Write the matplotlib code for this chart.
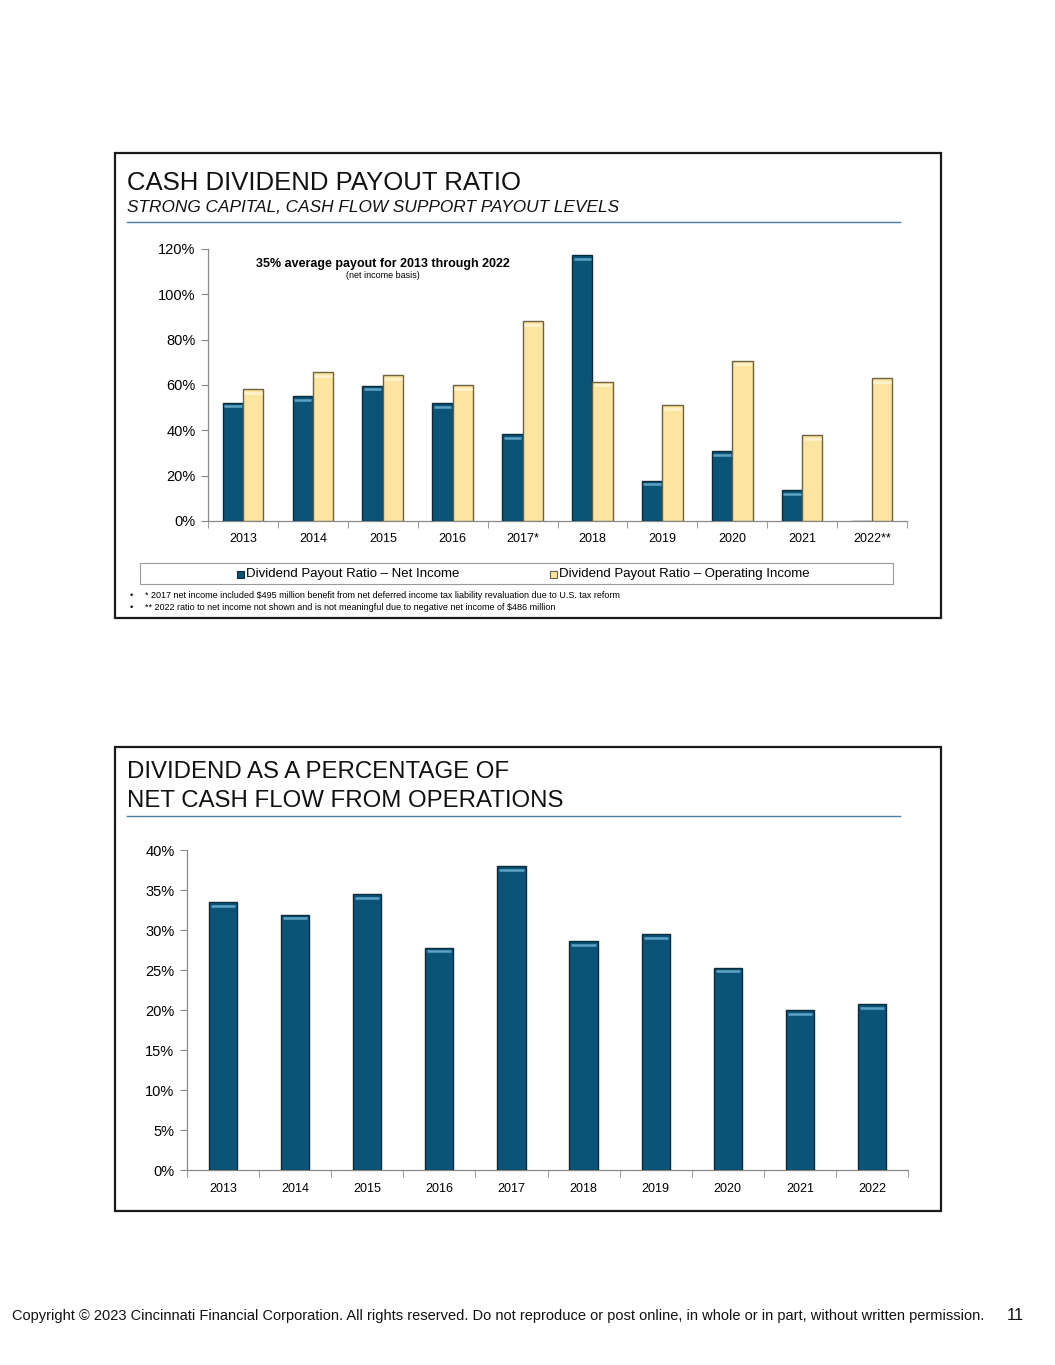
import numpy as np
import matplotlib
matplotlib.use('Agg')
import matplotlib.pyplot as plt
from matplotlib.patches import Rectangle
from matplotlib.lines import Line2D

plt.rcParams['font.family'] = ['Liberation Sans', 'DejaVu Sans']

# data
years1 = ['2013', '2014', '2015', '2016', '2017*', '2018', '2019', '2020', '2021', '2022**']
net_income = [52.2, 55.0, 59.7, 52.0, 38.3, 117.3, 17.8, 30.9, 13.5, 0.0]
operating = [58.1, 65.6, 64.2, 60.0, 88.2, 61.4, 51.2, 70.7, 37.8, 63.0]

years2 = ['2013', '2014', '2015', '2016', '2017', '2018', '2019', '2020', '2021', '2022']
cash_flow = [33.5, 31.9, 34.5, 27.8, 38.0, 28.6, 29.5, 25.3, 20.0, 20.7]

W, H = 1055, 1365
NAVY = '#0a5577'
NAVY_EDGE = '#0b2a3c'
NAVY_HI = '#5fa3c4'
CREAM = '#fbe5a0'
CREAM_EDGE = '#6e6040'
CREAM_HI = '#fff4cf'

fig = plt.figure(figsize=(W / 100, H / 100), dpi=100)


def fx(x):
    return x / W


def fy(y):
    return 1 - y / H


def add_axes(l, t, r, b):
    return fig.add_axes([fx(l), fy(b), fx(r) - fx(l), fy(t) - fy(b)])


def panel(l, t, r, b):
    fig.patches.append(Rectangle((fx(l), fy(b)), fx(r) - fx(l), fy(t) - fy(b),
                                 transform=fig.transFigure, fill=False,
                                 edgecolor='#1a1a1a', linewidth=1.6))


def rule(y, l=127, r=900):
    fig.lines.append(Line2D([fx(l), fx(r)], [fy(y), fy(y)], transform=fig.transFigure,
                            color='#4a7fa5', linewidth=1.0))


def style_axes(ax, labels, ylim, step):
    n = len(labels)
    ax.set_xlim(-0.5, n - 0.5)
    ax.set_ylim(*ylim)
    for s in ['top', 'right']:
        ax.spines[s].set_visible(False)
    for s in ['left', 'bottom']:
        ax.spines[s].set_color('#888888')
        ax.spines[s].set_linewidth(0.9)
    ax.set_xticks(np.arange(n))
    ax.set_xticklabels(labels, fontsize=9)
    ax.set_xticks(np.arange(n + 1) - 0.5, minor=True)
    ax.tick_params(axis='x', which='major', length=0, pad=9)
    ax.tick_params(axis='x', which='minor', length=5, color='#888888', direction='out')
    ax.set_yticks(np.arange(ylim[0], ylim[1] + 0.1, step))
    ax.set_yticklabels(['%d%%' % v for v in np.arange(ylim[0], ylim[1] + 0.1, step)], fontsize=10.5)
    ax.tick_params(axis='y', length=5, color='#888888', pad=4)
    ax.patch.set_alpha(0)


def highlight(ax, x, vals, width, color, dy):
    # light stripe just under the top of each bar
    for xi, v in zip(x, vals):
        if v > dy * 2:
            ax.hlines(v - dy, xi - width / 2 + width * 0.07, xi + width / 2 - width * 0.07,
                      color=color, linewidth=1.8, zorder=4)


# ---- panel 1 ----
panel(115, 153, 941, 618)
fig.text(fx(127), fy(183), 'CASH DIVIDEND PAYOUT RATIO', fontsize=18.5, va='center', ha='left', color='#111111')
fig.text(fx(127), fy(208), 'STRONG CAPITAL, CASH FLOW SUPPORT PAYOUT LEVELS', fontsize=12.4, style='italic',
         va='center', ha='left', color='#111111')
rule(222)

ax1 = add_axes(208, 249, 907, 521)
x = np.arange(len(years1))
bw = 0.29
ax1.bar(x - bw / 2, net_income, bw, color=NAVY, edgecolor=NAVY_EDGE, linewidth=1.0, zorder=3)
ax1.bar(x + bw / 2, operating, bw, color=CREAM, edgecolor=CREAM_EDGE, linewidth=1.0, zorder=3)
highlight(ax1, x - bw / 2, net_income, bw, NAVY_HI, 1.6)
highlight(ax1, x + bw / 2, operating, bw, CREAM_HI, 1.6)
style_axes(ax1, years1, (0, 120), 20)
ax1.text(2.0, 113.5, '35% average payout for 2013 through 2022', fontsize=9, fontweight='bold',
         ha='center', va='center')
ax1.text(2.0, 108.5, '(net income basis)', fontsize=6.5, ha='center', va='center')

# legend box
fig.patches.append(Rectangle((fx(140), fy(584)), fx(893) - fx(140), fy(563) - fy(584),
                             transform=fig.transFigure, fill=False, edgecolor='#999999', linewidth=0.8))
for lx, col, ec, lab in [(237, NAVY, NAVY_EDGE, 'Dividend Payout Ratio \u2013 Net Income'),
                         (550, CREAM, CREAM_EDGE, 'Dividend Payout Ratio \u2013 Operating Income')]:
    fig.patches.append(Rectangle((fx(lx), fy(578)), fx(7), fy(0) - fy(7), transform=fig.transFigure,
                                 facecolor=col, edgecolor=ec, linewidth=0.8))
    fig.text(fx(lx + 9), fy(574), lab, fontsize=9.5, va='center', ha='left')

fig.text(fx(131), fy(595), '\u2022', fontsize=6.5, va='center', ha='center')
fig.text(fx(145), fy(595), '* 2017 net income included $495 million benefit from net deferred income tax liability '
         'revaluation due to U.S. tax reform', fontsize=6.5, va='center', ha='left')
fig.text(fx(131), fy(607), '\u2022', fontsize=6.5, va='center', ha='center')
fig.text(fx(145), fy(607), '** 2022 ratio to net income not shown and is not meaningful due to negative net '
         'income of $486 million', fontsize=6.5, va='center', ha='left')

# ---- panel 2 ----
panel(115, 747, 941, 1211)
fig.text(fx(127), fy(772), 'DIVIDEND AS A PERCENTAGE OF', fontsize=17.3, va='center', ha='left', color='#111111')
fig.text(fx(127), fy(801), 'NET CASH FLOW FROM OPERATIONS', fontsize=17.3, va='center', ha='left', color='#111111')
rule(816)

ax2 = add_axes(187, 850, 908, 1170)
x2 = np.arange(len(years2))
bw2 = 0.39
ax2.bar(x2, cash_flow, bw2, color=NAVY, edgecolor=NAVY_EDGE, linewidth=1.0, zorder=3)
highlight(ax2, x2, cash_flow, bw2, NAVY_HI, 0.45)
style_axes(ax2, years2, (0, 40), 5)

# footer
fig.text(fx(12), fy(1316), 'Copyright \u00a9 2023 Cincinnati Financial Corporation. All rights reserved. Do not '
         'reproduce or post online, in whole or in part, without written permission.', fontsize=10.5,
         va='center', ha='left', color='#111111')
fig.text(fx(1007), fy(1315), '11', fontsize=12, va='center', ha='left', color='#111111')

fig.savefig('out.png', dpi=100, facecolor='white')
